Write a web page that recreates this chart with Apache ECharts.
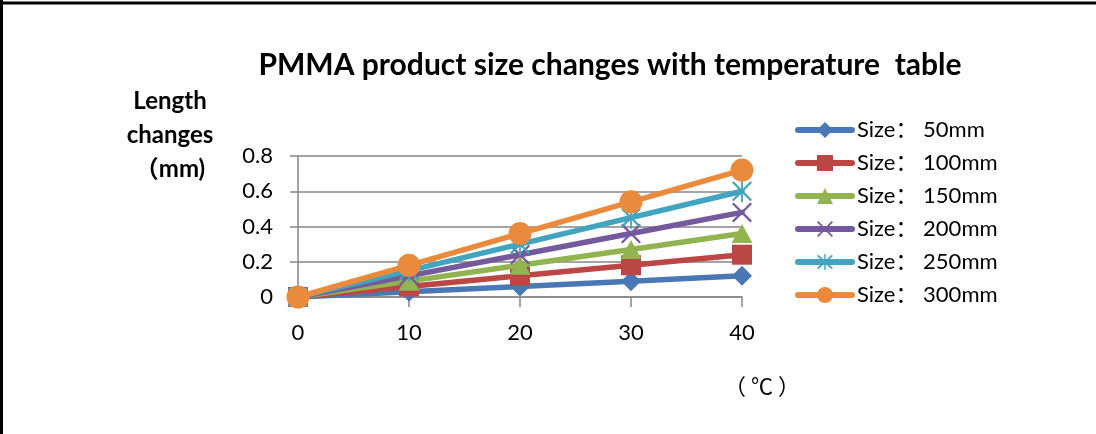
<!DOCTYPE html>
<html><head><meta charset="utf-8">
<script src="https://cdn.jsdelivr.net/npm/echarts@6/dist/echarts.min.js"></script>
<style>html,body{margin:0;padding:0;background:#fff}#c{width:1096px;height:434px}</style>
</head><body><div id="c"></div>
<script>
const categories = ['0', '10', '20', '30', '40'];
const seriesNames = ['Size： 50mm', 'Size： 100mm', 'Size： 150mm', 'Size： 200mm', 'Size： 250mm', 'Size： 300mm'];
const size50  = [0, 0.03, 0.06, 0.09, 0.12];
const size100 = [0, 0.06, 0.12, 0.18, 0.24];
const size150 = [0, 0.09, 0.18, 0.27, 0.36];
const size200 = [0, 0.12, 0.24, 0.36, 0.48];
const size250 = [0, 0.15, 0.30, 0.45, 0.60];
const size300 = [0, 0.18, 0.36, 0.54, 0.72];
const yTicks = [0, 0.2, 0.4, 0.6, 0.8];

const allData = [size50, size100, size150, size200, size250, size300];
const colors = ['#4A78B5', '#BB4643', '#92B450', '#74599C', '#42A4BF', '#EA8A3C'];
const xPath = 'path://M0 1.6L1.6 0L20 18.4L18.4 20Z M18.4 0L20 1.6L1.6 20L0 18.4Z';
const starPath = 'path://M0 2.6L1.6 1L20 19.4L18.4 21Z M18.4 1L20 2.6L1.6 21L0 19.4Z M9.1 0L10.9 0L10.9 22L9.1 22Z';
const symbols = ['diamond', 'rect', 'triangle', xPath, starPath, 'circle'];
const symSizes = [[20, 20], [20, 20], [21, 19], [20, 20], [20, 22], [23, 23]];
const font = 'Lato, "Noto Sans CJK SC", sans-serif';

const chart = echarts.init(document.getElementById('c'));
chart.setOption({
  animation: false,
  title: {
    text: 'PMMA product size changes with temperature  table',
    left: 605, top: 45, textAlign: 'center',
    textStyle: { fontFamily: font, fontSize: 30, fontWeight: 'bold', color: '#000' }
  },
  graphic: [
    { type: 'line', shape: { x1: 0, y1: 3, x2: 1096, y2: 3 }, style: { stroke: '#000', lineWidth: 3 } },
    { type: 'line', shape: { x1: 1.5, y1: 0, x2: 1.5, y2: 434 }, style: { stroke: '#000', lineWidth: 3 } },
    { type: 'text', style: { x: 170, y: 135, text: 'Length\nchanges\n（mm)', fontFamily: font, fontSize: 24, fontWeight: 'bold', fill: '#000', align: 'center', verticalAlign: 'middle', lineHeight: 34 } },
    { type: 'text', style: { x: 762, y: 386, text: '（ ℃ ）', fontFamily: '"Noto Sans CJK SC", sans-serif', fontSize: 22, fill: '#000', align: 'center', verticalAlign: 'middle' } }
  ],
  legend: {
    orient: 'vertical', left: 790, top: 114,
    itemWidth: 54, itemHeight: 20, itemGap: 11, itemSymbolKeepAspect: true,
    data: seriesNames,
    lineStyle: { width: 6, cap: 'round' },
    textStyle: { fontFamily: font, fontSize: 22, lineHeight: 22, color: '#000' }
  },
  grid: { left: 298, right: 354, top: 156, bottom: 137, containLabel: false },
  xAxis: {
    type: 'category', data: categories, boundaryGap: false,
    axisLine: { lineStyle: { color: '#868686', width: 1.5 } },
    axisTick: { show: true, length: 10, alignWithLabel: true, lineStyle: { color: '#868686', width: 1.5 } },
    axisLabel: { fontFamily: font, fontSize: 22, color: '#000', margin: 25 }
  },
  yAxis: {
    type: 'value', min: 0, max: 0.8, interval: 0.2,
    axisLine: { show: true, lineStyle: { color: '#868686', width: 1.5 } },
    axisTick: { show: true, length: 8, lineStyle: { color: '#868686', width: 1.5 } },
    splitLine: { lineStyle: { color: '#868686', width: 1.5 } },
    axisLabel: { fontFamily: font, fontSize: 22, color: '#000', margin: 25,
      formatter: v => { const t = yTicks.find(x => Math.abs(x - v) < 1e-9); return t === undefined ? '' : String(t); } }
  },
  series: allData.map((d, i) => ({
    name: seriesNames[i], type: 'line', data: d,
    symbol: symbols[i], symbolSize: symSizes[i], showAllSymbol: true,
    lineStyle: { color: colors[i], width: 5.5, cap: 'round' },
    itemStyle: { color: colors[i] },
    z: 2 + i
  }))
});
</script></body></html>
